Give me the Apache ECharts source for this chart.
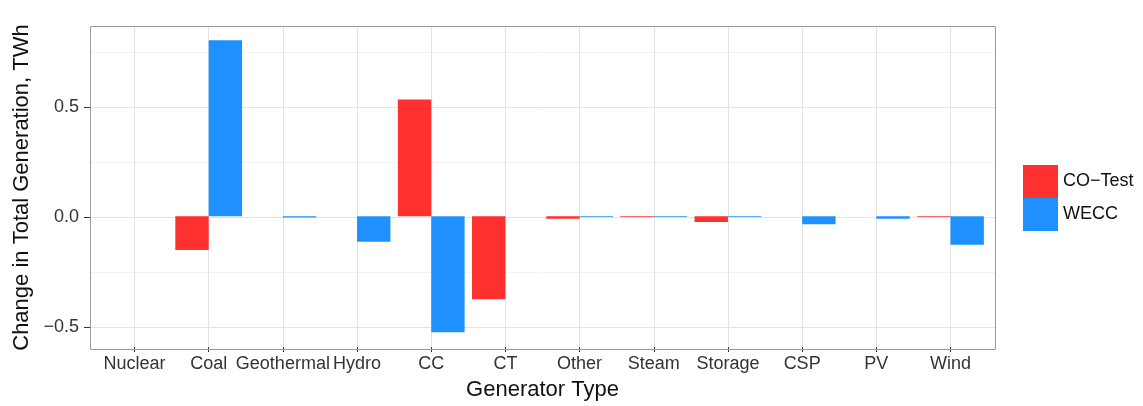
<!DOCTYPE html>
<html>
<head>
<meta charset="utf-8">
<script src="https://cdn.jsdelivr.net/npm/echarts@6/dist/echarts.min.js"></script>
<style>
  html, body { margin: 0; padding: 0; background: #ffffff; }
  #chart { width: 1143px; height: 406px; }
</style>
</head>
<body>
<div id="chart"></div>
<script>
// ---- data ----
const categories = ['Nuclear', 'Coal', 'Geothermal', 'Hydro', 'CC', 'CT', 'Other', 'Steam', 'Storage', 'CSP', 'PV', 'Wind'];
const seriesNames = ['CO\u2212Test', 'WECC'];
const coTest = [0, -0.154, 0, 0, 0.534, -0.380, -0.012, -0.003, -0.026, 0, 0, -0.003];
const wecc   = [0, 0.805, -0.006, -0.117, -0.530, 0, -0.004, -0.004, -0.003, -0.037, -0.012, -0.130];
const yTicks = [-0.5, 0, 0.5];
const yMinor = [-0.25, 0.25, 0.75];
const yMin = -0.598, yMax = 0.870;

// ---- layout ----
const W = 1143, H = 406;
const panelL = 90, panelR = 995, panelT = 26, panelB = 349;
const unit = (panelR - panelL) / (categories.length - 1 + 1.2);
const inset = 0.1 * unit;

const fmt = v => (v < 0 ? '\u2212' : '') + Math.abs(v).toFixed(1);

const chart = echarts.init(document.getElementById('chart'), null, { renderer: 'canvas' });
const font = 'Liberation Sans, Arial, Helvetica, sans-serif';

const option = {
  backgroundColor: '#ffffff',
  animation: false,
  textStyle: { fontFamily: font },
  grid: [
    { left: panelL, right: W - panelR, top: panelT, bottom: H - panelB, show: false },
    { left: panelL + inset, right: W - panelR + inset, top: panelT, bottom: H - panelB, show: false }
  ],
  xAxis: [
    { type: 'value', gridIndex: 0, min: 0, max: 1, show: false },
    {
      type: 'category', gridIndex: 1, data: categories, boundaryGap: true,
      axisLine: { show: false, onZero: false },
      axisTick: { show: true, alignWithLabel: true, length: 5, lineStyle: { color: '#333333', width: 1 } },
      axisLabel: { interval: 0, color: '#333333', fontSize: 18, margin: 8, fontFamily: font },
      splitLine: { show: false },
      name: 'Generator Type', nameLocation: 'middle', nameGap: 32,
      nameTextStyle: { fontSize: 22, color: '#111111', fontFamily: font }
    }
  ],
  yAxis: [
    {
      type: 'value', gridIndex: 0, min: yMin, max: yMax,
      axisLine: { show: false, onZero: false },
      axisTick: { show: true, customValues: yTicks, length: 6, lineStyle: { color: '#333333' } },
      axisLabel: { customValues: yTicks, formatter: fmt, color: '#333333', fontSize: 18, margin: 11, fontFamily: font },
      splitLine: { show: false },
      name: 'Change in Total Generation, TWh', nameLocation: 'middle', nameGap: 55,
      nameTextStyle: { fontSize: 22, color: '#111111', fontFamily: font }
    },
    { type: 'value', gridIndex: 1, min: yMin, max: yMax, show: false, splitLine: { show: false } }
  ],
  legend: {
    orient: 'vertical', left: 1023, top: 165, padding: 0,
    itemWidth: 35, itemHeight: 33, itemGap: 0, icon: 'rect',
    textStyle: { fontSize: 18, color: '#111111', fontFamily: font },
    data: seriesNames
  },
  series: [
    {
      type: 'line', xAxisIndex: 0, yAxisIndex: 0, data: [], z: 0, silent: true,
      markLine: {
        z: 0, silent: true, symbol: 'none', label: { show: false },
        data: yMinor.map(v => ({ yAxis: v, lineStyle: { color: '#f2f2f2', width: 1, type: 'solid' } }))
          .concat(yTicks.map(v => ({ yAxis: v, lineStyle: { color: '#e3e3e3', width: 1, type: 'solid' } })))
      }
    },
    {
      type: 'line', xAxisIndex: 1, yAxisIndex: 1, data: [], z: 0, silent: true,
      markLine: {
        z: 0, silent: true, symbol: 'none', label: { show: false },
        data: categories.map(c => ({ xAxis: c, lineStyle: { color: '#e3e3e3', width: 1, type: 'solid' } }))
      }
    },
    {
      name: seriesNames[0], type: 'bar', xAxisIndex: 1, yAxisIndex: 1, data: coTest, z: 3,
      barGap: '0%', barCategoryGap: '10%', itemStyle: { color: '#FF3030' }
    },
    {
      name: seriesNames[1], type: 'bar', xAxisIndex: 1, yAxisIndex: 1, data: wecc, z: 3,
      barGap: '0%', barCategoryGap: '10%', itemStyle: { color: '#1E90FF' }
    }
  ],
  graphic: [
    {
      type: 'rect', z: 10, silent: true,
      shape: { x: panelL + 0.5, y: panelT + 0.5, width: panelR - panelL, height: panelB - panelT },
      style: { fill: null, stroke: '#9a9a9a', lineWidth: 1 }
    }
  ]
};
chart.setOption(option);
</script>
</body>
</html>
